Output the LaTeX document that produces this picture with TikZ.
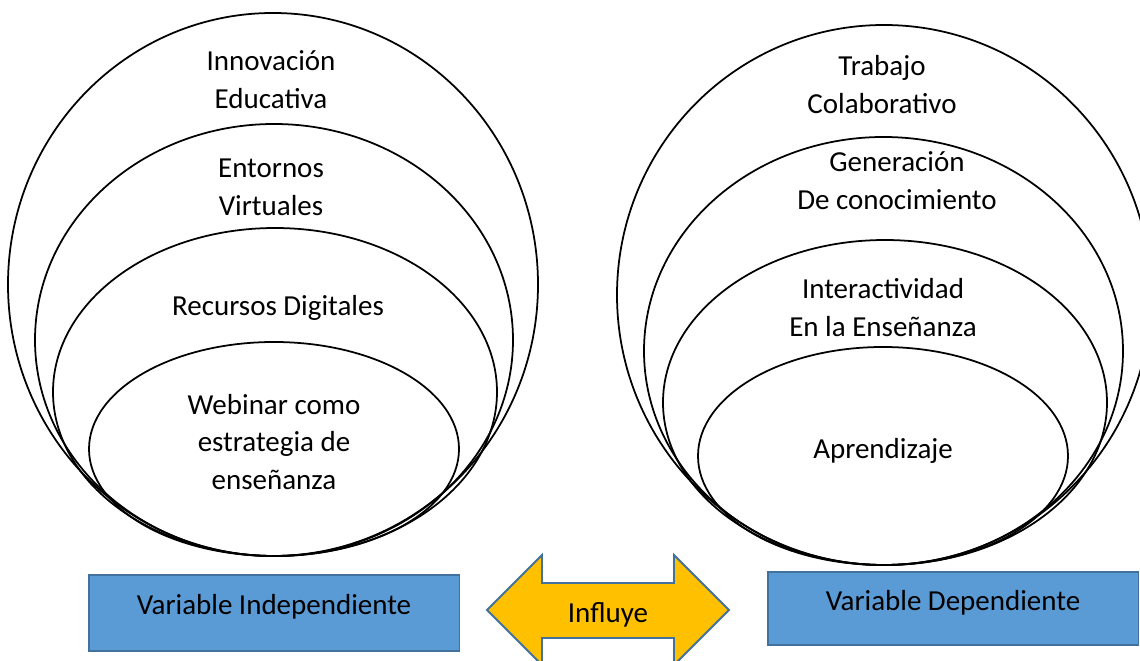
\documentclass[tikz,border=0pt]{standalone}
\usepackage{fontspec}
\setmainfont{Carlito}

\definecolor{varblue}{HTML}{5B9BD5}
\definecolor{varedge}{HTML}{41719C}
\definecolor{influgold}{HTML}{FFC000}

\tikzset{
	txt/.style={align=center, inner sep=0pt, font=\fontsize{16.5}{21.6}\selectfont},
	varbox/.style={txt, draw=varedge, fill=varblue, line width=1.1pt, minimum width=7.42cm, text height=0.44cm, text depth=0.37cm}
}

\begin{document}
\begin{tikzpicture}[x=0.02cm, y=-0.02cm]
	\useasboundingbox (0,0) rectangle (1140,661);
	\clip (0,0) rectangle (1140,661);
	
	% independent side
	\draw [line width=1pt] (273,284.5) ellipse (265 and 271.5);
	\draw [line width=1pt] (274,340) ellipse (239 and 216);
	\draw [line width=1pt] (275,392) ellipse (222 and 164);
	\draw [line width=1pt] (274,449) ellipse (185 and 107);
	
	\node [txt] (innov) at (271,80) {Innovación\\Educativa};
	\node [txt] (entor) at (271,187) {Entornos\\Virtuales};
	\node [txt] (recur) at (278,308) {Recursos Digitales};
	\node [txt] (webin) at (274,442) {Webinar como\\estrategia de\\enseñanza};
	
	% dependent side
	\draw [line width=1pt] (884,295) ellipse (267 and 270);
	\draw [line width=1pt] (883.5,351) ellipse (239.5 and 214);
	\draw [line width=1pt] (885,402.5) ellipse (222 and 162.5);
	\draw [line width=1pt] (883,456) ellipse (185 and 109);
	
	\node [txt] (trab) at (882,85) {Trabajo\\Colaborativo};
	\node [txt] (gener) at (897,181) {Generación\\De conocimiento};
	\node [txt] (inter) at (883,308) {Interactividad\\En la Enseñanza};
	\node [txt] (apren) at (883,451) {Aprendizaje};
	
	% variables
	\node [varbox, minimum height=1.52cm] (indep) at (274,613) {Variable Independiente};
	\node [varbox, minimum height=1.46cm] (depen) at (953,608.5) {Variable Dependiente};
	
	\filldraw [fill=influgold, draw=varedge, line width=1.1pt, line join=miter] (487,610) -- (542,555) -- (542,583) -- (674,583) -- (674,555) -- (729,610) -- (674,665) -- (674,638) -- (542,638) -- (542,665) -- cycle;
	\node [txt] (influ) at (608,615) {Influye};
\end{tikzpicture}
\end{document}
